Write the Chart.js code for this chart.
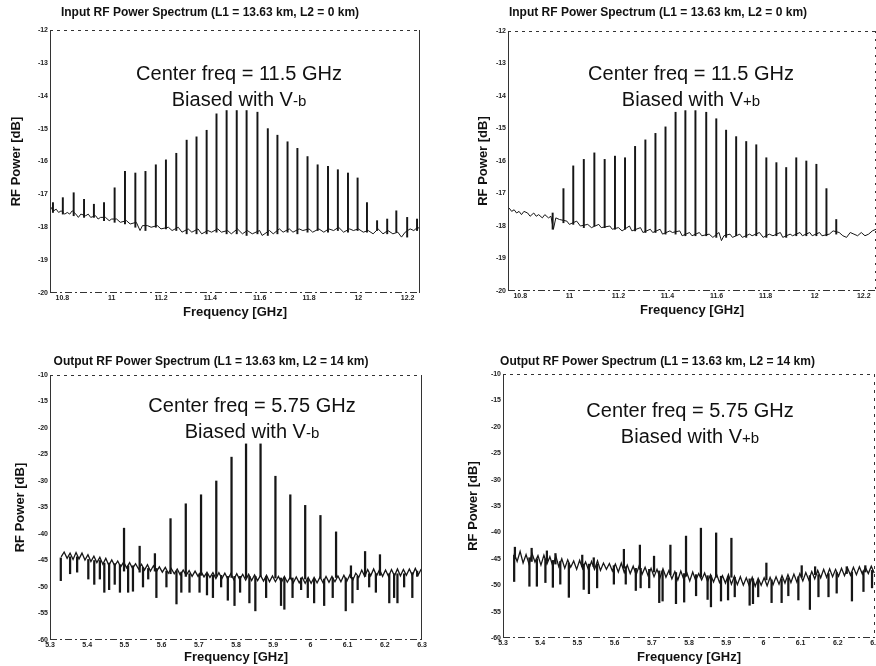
<!DOCTYPE html>
<html>
<head>
<meta charset="utf-8">
<script src="https://cdn.jsdelivr.net/npm/chart.js@4/dist/chart.umd.min.js"></script>
<style>
  body { margin: 0; background: #fff; }
  #fig { position: relative; width: 876px; height: 666px; background: #fff; overflow: hidden; }
  .panel { position: absolute; }
  .note { position: absolute; width: 320px; text-align: center; font-family: "Liberation Sans", Arial, sans-serif;
          font-size: 20px; line-height: 24px; color: #111; white-space: nowrap; }
  .note small { font-size: 15px; }
</style>
</head>
<body>
<div id="fig">
  <div class="panel" style="left:0;top:0"><canvas id="cTL" width="440" height="330"></canvas></div>
  <div class="panel" style="left:440px;top:0"><canvas id="cTR" width="436" height="330"></canvas></div>
  <div class="panel" style="left:0;top:330px"><canvas id="cBL" width="440" height="336"></canvas></div>
  <div class="panel" style="left:440px;top:330px"><canvas id="cBR" width="436" height="336"></canvas></div>

  <div class="note" style="left:79px;top:61px">Center freq = 11.5 GHz</div>
  <div class="note" style="left:79px;top:87px">Biased with V<small>-b</small></div>
  <div class="note" style="left:531px;top:61px">Center freq = 11.5 GHz</div>
  <div class="note" style="left:531px;top:87px">Biased with V<small>+b</small></div>
  <div class="note" style="left:92px;top:393px">Center freq = 5.75 GHz</div>
  <div class="note" style="left:92px;top:419px">Biased with V<small>-b</small></div>
  <div class="note" style="left:530px;top:398px">Center freq = 5.75 GHz</div>
  <div class="note" style="left:530px;top:424px">Biased with V<small>+b</small></div>
</div>

<script>
// ---- tick labels ----
const inXTicks = [10.8, 11, 11.2, 11.4, 11.6, 11.8, 12, 12.2];
const inYTicks = [-12, -13, -14, -15, -16, -17, -18, -19, -20];
const outXTicks = [5.3, 5.4, 5.5, 5.6, 5.7, 5.8, 5.9, 6, 6.1, 6.2, 6.3];
const outYTicks = [-10, -15, -20, -25, -30, -35, -40, -45, -50, -55, -60];

// ---- top left: input spectrum, V-b ----
const tlFloorF = [10.75, 10.755, 10.765, 10.775, 10.785, 10.795, 10.81, 10.82, 10.83, 10.84, 10.855, 10.865, 10.875, 10.895, 10.905, 10.915, 10.935, 10.945, 10.955, 10.975, 10.99, 11.0, 11.02, 11.035, 11.06, 11.075, 11.1, 11.115, 11.125, 11.145, 11.16, 11.185, 11.2, 11.23, 11.245, 11.27, 11.285, 11.31, 11.325, 11.35, 11.365, 11.39, 11.405, 11.43, 11.445, 11.47, 11.485, 11.51, 11.53, 11.55, 11.57, 11.6, 11.61, 11.64, 11.655, 11.68, 11.695, 11.72, 11.735, 11.76, 11.775, 11.8, 11.815, 11.84, 11.86, 11.88, 11.9, 11.92, 11.94, 11.965, 11.98, 12.0, 12.02, 12.04, 12.06, 12.08, 12.1, 12.12, 12.14, 12.16, 12.175, 12.19, 12.21, 12.225, 12.24, 12.25];
const tlFloorDb = [-17.55, -17.4, -17.5, -17.45, -17.55, -17.5, -17.6, -17.55, -17.6, -17.5, -17.6, -17.7, -17.6, -17.65, -17.6, -17.7, -17.65, -17.75, -17.7, -17.7, -17.8, -17.75, -17.75, -17.85, -17.8, -17.9, -17.85, -18.1, -17.95, -17.95, -18.0, -17.95, -18.05, -18.0, -18.1, -18.0, -18.15, -18.05, -18.15, -18.05, -18.2, -18.1, -18.15, -18.05, -18.15, -18.1, -18.2, -18.05, -18.2, -18.1, -18.2, -18.1, -18.25, -18.1, -18.2, -18.05, -18.15, -18.05, -18.15, -18.05, -18.1, -18.05, -18.15, -18.05, -18.15, -18.05, -18.1, -18.0, -18.15, -18.05, -18.1, -18.05, -18.15, -18.1, -18.2, -18.05, -18.2, -18.1, -18.2, -18.15, -18.3, -18.15, -18.05, -18.1, -18.0, -18.05];
const tlSpikeF = [10.762, 10.802, 10.846, 10.888, 10.928, 10.969, 11.012, 11.054, 11.096, 11.137, 11.179, 11.22, 11.262, 11.304, 11.344, 11.385, 11.425, 11.466, 11.507, 11.547, 11.591, 11.633, 11.672, 11.713, 11.753, 11.794, 11.835, 11.877, 11.917, 11.958, 11.997, 12.035, 12.076, 12.117, 12.154, 12.198, 12.238];
const tlSpikeHi = [-17.25, -17.1, -16.95, -17.15, -17.3, -17.25, -16.8, -16.3, -16.35, -16.3, -16.1, -15.95, -15.75, -15.35, -15.25, -15.05, -14.55, -14.45, -14.45, -14.45, -14.5, -15.0, -15.2, -15.4, -15.6, -15.85, -16.1, -16.15, -16.25, -16.35, -16.5, -17.25, -17.8, -17.75, -17.5, -17.7, -17.75];
const tlSpikeLo = [-17.55, -17.6, -17.65, -17.7, -17.7, -17.8, -17.85, -17.9, -18.0, -18.1, -18.0, -18.05, -18.1, -18.2, -18.2, -18.2, -18.15, -18.2, -18.2, -18.25, -18.2, -18.25, -18.2, -18.15, -18.2, -18.15, -18.1, -18.15, -18.1, -18.15, -18.1, -18.15, -18.1, -18.2, -18.15, -18.3, -18.1];

// ---- top right: input spectrum, V+b ----
const trFloorF = [10.75, 10.755, 10.765, 10.775, 10.785, 10.795, 10.805, 10.815, 10.83, 10.84, 10.855, 10.865, 10.875, 10.89, 10.9, 10.915, 10.925, 10.935, 10.945, 10.96, 10.99, 11.0, 11.03, 11.045, 11.075, 11.09, 11.12, 11.13, 11.165, 11.175, 11.2, 11.215, 11.245, 11.255, 11.29, 11.3, 11.33, 11.34, 11.37, 11.38, 11.41, 11.42, 11.45, 11.46, 11.49, 11.5, 11.53, 11.54, 11.57, 11.585, 11.61, 11.62, 11.63, 11.655, 11.665, 11.695, 11.705, 11.735, 11.745, 11.775, 11.79, 11.815, 11.83, 11.86, 11.87, 11.9, 11.91, 11.94, 11.95, 11.98, 11.99, 12.02, 12.03, 12.06, 12.075, 12.1, 12.115, 12.13, 12.145, 12.16, 12.175, 12.19, 12.205, 12.22, 12.235, 12.25];
const trFloorDb = [-17.5, -17.45, -17.55, -17.5, -17.6, -17.55, -17.65, -17.55, -17.6, -17.7, -17.6, -17.7, -17.65, -17.75, -17.65, -17.75, -17.7, -18.1, -17.75, -17.8, -17.85, -17.95, -17.85, -18.0, -17.95, -18.05, -17.95, -18.05, -18.0, -18.1, -18.05, -18.15, -18.0, -18.15, -18.05, -18.2, -18.1, -18.2, -18.1, -18.25, -18.15, -18.2, -18.15, -18.3, -18.2, -18.3, -18.2, -18.3, -18.25, -18.35, -18.2, -18.45, -18.3, -18.25, -18.35, -18.25, -18.35, -18.25, -18.3, -18.2, -18.35, -18.25, -18.3, -18.2, -18.35, -18.25, -18.3, -18.2, -18.3, -18.2, -18.3, -18.2, -18.3, -18.25, -18.15, -18.2, -18.3, -18.35, -18.2, -18.25, -18.3, -18.2, -18.3, -18.25, -18.15, -18.1];
const trSpikeF = [10.932, 10.976, 11.016, 11.059, 11.102, 11.144, 11.186, 11.227, 11.268, 11.31, 11.351, 11.392, 11.433, 11.473, 11.514, 11.558, 11.599, 11.639, 11.68, 11.721, 11.762, 11.803, 11.844, 11.884, 11.925, 11.966, 12.007, 12.048, 12.088];
const trSpikeHi = [-17.6, -16.85, -16.15, -15.95, -15.75, -15.95, -15.85, -15.9, -15.55, -15.35, -15.15, -14.95, -14.5, -14.45, -14.45, -14.5, -14.7, -15.05, -15.25, -15.4, -15.5, -15.9, -16.05, -16.2, -15.9, -16.0, -16.1, -16.85, -17.8];
const trSpikeLo = [-18.1, -17.9, -17.95, -18.05, -18.0, -18.05, -18.1, -18.1, -18.15, -18.2, -18.2, -18.25, -18.25, -18.3, -18.3, -18.3, -18.35, -18.35, -18.3, -18.35, -18.3, -18.35, -18.3, -18.35, -18.3, -18.3, -18.3, -18.3, -18.25];

// ---- bottom left: output spectrum, V-b ----
const blFloorF = [5.33, 5.338, 5.346, 5.354, 5.362, 5.37, 5.378, 5.386, 5.394, 5.402, 5.41, 5.418, 5.426, 5.434, 5.442, 5.45, 5.458, 5.466, 5.474, 5.482, 5.49, 5.498, 5.506, 5.514, 5.522, 5.53, 5.538, 5.546, 5.554, 5.562, 5.57, 5.578, 5.586, 5.594, 5.602, 5.61, 5.618, 5.626, 5.634, 5.642, 5.65, 5.658, 5.666, 5.674, 5.682, 5.69, 5.698, 5.706, 5.714, 5.722, 5.73, 5.738, 5.746, 5.754, 5.762, 5.77, 5.778, 5.786, 5.794, 5.802, 5.81, 5.818, 5.826, 5.834, 5.842, 5.85, 5.858, 5.866, 5.874, 5.882, 5.89, 5.898, 5.906, 5.914, 5.922, 5.93, 5.938, 5.946, 5.954, 5.962, 5.97, 5.978, 5.986, 5.994, 6.002, 6.01, 6.018, 6.026, 6.034, 6.042, 6.05, 6.058, 6.066, 6.074, 6.082, 6.09, 6.098, 6.106, 6.114, 6.122, 6.13, 6.138, 6.146, 6.154, 6.162, 6.17, 6.178, 6.186, 6.194, 6.202, 6.21, 6.218, 6.226, 6.234, 6.242, 6.25, 6.258, 6.266, 6.274, 6.282, 6.29, 6.298];
const blFloorDb = [-44.3, -43.4, -44.6, -43.6, -44.8, -43.5, -44.7, -43.6, -44.9, -43.9, -45.2, -44.2, -45.4, -44.4, -45.7, -44.6, -45.9, -44.9, -46.0, -45.1, -46.2, -45.3, -46.4, -45.4, -46.5, -45.6, -46.6, -45.7, -46.8, -45.8, -47.0, -46.0, -47.1, -46.2, -47.2, -46.3, -47.4, -46.5, -47.5, -46.6, -47.7, -46.8, -47.8, -46.9, -48.0, -47.0, -48.0, -47.1, -48.1, -47.2, -48.2, -47.3, -48.4, -47.3, -48.4, -47.4, -48.5, -47.5, -48.6, -47.5, -48.6, -47.6, -48.7, -47.6, -48.8, -47.7, -48.8, -47.8, -48.9, -47.8, -49.0, -47.9, -49.0, -48.0, -49.1, -48.0, -49.1, -48.1, -49.2, -48.1, -49.2, -48.2, -49.3, -48.2, -49.3, -48.2, -49.2, -48.1, -49.2, -48.0, -49.1, -48.0, -49.0, -47.9, -49.0, -47.8, -48.9, -47.7, -48.7, -47.4, -48.2, -46.8, -48.0, -46.7, -47.9, -46.6, -47.9, -46.7, -48.0, -46.8, -48.0, -46.7, -47.9, -46.6, -47.9, -46.7, -47.8, -46.6, -47.8, -46.5, -47.7, -46.6];
// comb lines (upward) followed by dips (downward)
const blSpikeF = [5.499, 5.541, 5.582, 5.624, 5.665, 5.706, 5.747, 5.788, 5.827, 5.866, 5.906, 5.946, 5.986, 6.027, 6.069, 6.109, 6.147, 6.187,
  5.329, 5.354, 5.373, 5.403, 5.419, 5.434, 5.446, 5.459, 5.474, 5.488, 5.51, 5.523, 5.55, 5.564, 5.586, 5.613, 5.64, 5.653, 5.675, 5.702, 5.722, 5.738, 5.76, 5.778, 5.796, 5.811, 5.836, 5.852, 5.881, 5.921, 5.93, 5.952, 5.975, 5.993, 6.01, 6.037, 6.06, 6.095, 6.113, 6.127, 6.158, 6.176, 6.212, 6.225, 6.234, 6.252, 6.274, 6.287];
const blSpikeLo = [-47.0, -47.2, -47.0, -47.5, -48.0, -47.8, -48.0, -48.2, -48.3, -48.0, -48.3, -48.5, -48.5, -48.3, -48.2, -48.3, -48.0, -47.8,
  -48.8, -47.5, -47.2, -48.5, -49.5, -48.5, -51.0, -50.5, -49.5, -51.0, -51.0, -50.8, -50.0, -48.5, -52.0, -50.0, -53.2, -51.0, -51.0, -51.0, -51.5, -52.0, -50.0, -52.5, -53.5, -51.0, -53.0, -54.5, -52.0, -53.5, -54.2, -52.0, -50.5, -52.0, -53.0, -53.5, -52.0, -54.5, -53.0, -50.5, -50.0, -51.0, -53.0, -52.0, -53.0, -50.0, -52.0, -48.0];
const blSpikeHi = [-38.9, -42.3, -43.7, -37.1, -34.3, -32.6, -30.0, -25.5, -23.0, -23.0, -29.1, -32.6, -34.6, -36.5, -39.6, -46.0, -43.3, -43.9,
  -44.5, -44.3, -44.3, -44.8, -45.0, -45.0, -45.5, -45.5, -45.6, -45.8, -46.0, -46.0, -46.3, -46.5, -46.5, -47.0, -47.0, -47.2, -47.5, -47.5, -47.5, -47.8, -47.8, -48.0, -48.0, -48.0, -48.0, -48.0, -48.0, -48.3, -48.3, -48.3, -48.3, -48.5, -48.5, -48.5, -48.3, -48.3, -48.2, -48.0, -47.5, -47.5, -47.5, -47.5, -47.5, -47.5, -47.3, -47.0];

// ---- bottom right: output spectrum, V+b ----
const brFloorF = [5.33, 5.338, 5.346, 5.354, 5.362, 5.37, 5.378, 5.386, 5.394, 5.402, 5.41, 5.418, 5.426, 5.434, 5.442, 5.45, 5.458, 5.466, 5.474, 5.482, 5.49, 5.498, 5.506, 5.514, 5.522, 5.53, 5.538, 5.546, 5.554, 5.562, 5.57, 5.578, 5.586, 5.594, 5.602, 5.61, 5.618, 5.626, 5.634, 5.642, 5.65, 5.658, 5.666, 5.674, 5.682, 5.69, 5.698, 5.706, 5.714, 5.722, 5.73, 5.738, 5.746, 5.754, 5.762, 5.77, 5.778, 5.786, 5.794, 5.802, 5.81, 5.818, 5.826, 5.834, 5.842, 5.85, 5.858, 5.866, 5.874, 5.882, 5.89, 5.898, 5.906, 5.914, 5.922, 5.93, 5.938, 5.946, 5.954, 5.962, 5.97, 5.978, 5.986, 5.994, 6.002, 6.01, 6.018, 6.026, 6.034, 6.042, 6.05, 6.058, 6.066, 6.074, 6.082, 6.09, 6.098, 6.106, 6.114, 6.122, 6.13, 6.138, 6.146, 6.154, 6.162, 6.17, 6.178, 6.186, 6.194, 6.202, 6.21, 6.218, 6.226, 6.234, 6.242, 6.25, 6.258, 6.266, 6.274, 6.282, 6.29, 6.298];
const brFloorDb = [-44.0, -45.5, -43.6, -45.8, -44.2, -46.0, -44.0, -45.6, -44.4, -46.2, -44.3, -46.0, -44.6, -46.4, -44.5, -46.5, -45.0, -46.8, -45.2, -46.6, -45.4, -47.0, -45.3, -46.9, -45.6, -47.1, -45.5, -47.0, -45.4, -47.2, -45.8, -47.0, -45.9, -47.3, -46.0, -47.5, -45.8, -47.6, -46.2, -47.8, -46.4, -48.0, -46.3, -47.9, -46.6, -48.2, -46.8, -48.4, -47.0, -48.6, -46.9, -48.5, -47.2, -48.8, -47.4, -49.0, -47.3, -48.9, -47.6, -49.2, -47.5, -49.1, -47.8, -49.0, -47.7, -49.3, -48.0, -49.4, -47.9, -49.5, -48.2, -49.6, -48.0, -49.8, -48.3, -49.9, -48.4, -50.0, -48.6, -50.1, -48.5, -50.2, -48.7, -50.0, -48.6, -50.1, -48.5, -49.9, -48.4, -49.8, -48.2, -49.6, -48.0, -49.5, -47.9, -49.4, -47.8, -49.2, -47.6, -49.0, -47.4, -48.8, -47.2, -48.6, -47.0, -48.5, -46.9, -48.4, -47.0, -48.3, -46.8, -48.2, -46.7, -48.1, -46.6, -48.0, -46.5, -47.9, -46.6, -47.8, -46.4, -47.7];
const brSpikeF = [5.75, 5.792, 5.832, 5.873, 5.914, 5.332, 5.377, 5.418, 5.441, 5.513, 5.544, 5.625, 5.668, 5.706, 6.008, 6.103, 6.139, 6.224, 6.274,
  5.33, 5.371, 5.391, 5.414, 5.434, 5.454, 5.477, 5.517, 5.531, 5.553, 5.598, 5.63, 5.657, 5.67, 5.693, 5.72, 5.729, 5.765, 5.787, 5.819, 5.85, 5.859, 5.886, 5.905, 5.923, 5.963, 5.972, 5.986, 6.022, 6.049, 6.067, 6.094, 6.125, 6.148, 6.175, 6.197, 6.238, 6.269, 6.292];
const brSpikeLo = [-48.0, -48.3, -48.5, -48.5, -48.5, -45.0, -45.5, -45.5, -46.0, -46.5, -46.5, -46.8, -47.0, -47.5, -49.0, -48.5, -48.0, -47.8, -47.5,
  -49.3, -50.2, -50.2, -49.5, -50.4, -49.8, -52.3, -50.8, -51.6, -50.5, -49.8, -49.8, -51.0, -50.5, -50.5, -53.3, -53.0, -53.5, -53.2, -52.0, -52.7, -54.1, -53.0, -52.8, -52.2, -53.8, -53.5, -52.2, -53.3, -53.3, -52.0, -52.8, -54.6, -52.2, -52.2, -51.5, -53.0, -51.2, -50.5];
const brSpikeHi = [-42.4, -40.7, -39.2, -40.1, -41.1, -42.8, -43.0, -43.5, -44.0, -44.3, -44.8, -43.2, -42.4, -44.5, -45.8, -46.3, -46.5, -46.5, -46.3,
  -44.3, -44.8, -45.0, -45.0, -45.3, -45.5, -45.8, -46.0, -46.0, -46.0, -46.3, -46.5, -46.8, -46.8, -47.0, -47.3, -47.3, -47.6, -47.8, -48.0, -48.2, -48.2, -48.3, -48.3, -48.5, -48.8, -48.8, -49.0, -49.0, -48.8, -48.6, -48.4, -48.2, -48.0, -47.8, -47.6, -47.5, -47.3, -47.2];

const FONT = '"Liberation Sans", Arial, sans-serif';
const INK = '#161616';

// Draw the plot box: solid left side, broken top/bottom/right like the scan
const framePlugin = {
    id: 'frame',
    afterDatasetsDraw(chart, args, opts) {
        const { ctx, chartArea: a } = chart;
        ctx.save();
        ctx.strokeStyle = '#333';
        ctx.lineWidth = 1;
        const seg = (x1, y1, x2, y2, dash) => {
            ctx.setLineDash(dash);
            ctx.beginPath();
            ctx.moveTo(x1, y1);
            ctx.lineTo(x2, y2);
            ctx.stroke();
        };
        seg(a.left, a.top + 0.5, a.right, a.top + 0.5, [3, 4]);
        seg(a.left, a.bottom - 0.5, a.right, a.bottom - 0.5, [7, 3, 2, 3]);
        seg(a.left + 0.5, a.top, a.left + 0.5, a.bottom, []);
        seg(a.right - 0.5, a.top, a.right - 0.5, a.bottom, opts.rightDash || []);
        ctx.restore();
    }
};

function pts(xs, ys) {
    return xs.map((x, i) => ({ x: x, y: ys[i] }));
}

function spans(xs, lo, hi) {
    return xs.map((x, i) => ({ x: x, y: [lo[i], hi[i]] }));
}

// p: canvas box, plot box, title/label positions (all page px)
function makePanel(p) {
    const ch = p.ch, cw = p.cw;
    const titleLH = 12 * 1.2, axisLH = 13 * 1.2;
    const titleTop = p.titleY - p.cy - titleLH / 2;
    const titleBottom = (p.T - p.cy) - titleLH - titleTop;

    return new Chart(document.getElementById(p.id), {
        type: 'line',
        data: {
            datasets: [
                {
                    type: 'bar',
                    data: spans(p.spikeF, p.spikeLo, p.spikeHi),
                    backgroundColor: INK,
                    borderWidth: 0,
                    barThickness: p.barW,
                    grouped: false
                },
                {
                    type: 'line',
                    data: pts(p.floorF, p.floorDb),
                    borderColor: INK,
                    borderWidth: p.lineW,
                    pointRadius: 0,
                    tension: 0
                }
            ]
        },
        options: {
            responsive: false,
            animation: false,
            devicePixelRatio: 1,
            layout: { padding: { left: 0, top: 0, bottom: 0, right: cw - (p.R - p.cx) } },
            plugins: {
                legend: { display: false },
                tooltip: { enabled: false },
                frame: { rightDash: p.rightDash },
                title: {
                    display: true,
                    text: p.title,
                    color: '#111',
                    font: { family: FONT, size: 12, weight: 'bold' },
                    padding: { top: titleTop, bottom: titleBottom }
                }
            },
            scales: {
                x: {
                    type: 'linear',
                    min: p.xMin,
                    max: p.xMax,
                    offset: false,
                    grid: { display: false, drawTicks: false },
                    border: { display: false },
                    afterBuildTicks: s => { s.ticks = p.xTicks.map(v => ({ value: v })); },
                    afterFit: s => {
                        s.height = ch - (p.B - p.cy);
                        s.paddingLeft = 0;
                        s.paddingRight = 0;
                    },
                    ticks: {
                        color: '#222',
                        font: { family: FONT, size: 7, weight: 'bold' },
                        padding: 1,
                        maxRotation: 0,
                        autoSkip: false,
                        callback: v => String(v)
                    },
                    title: {
                        display: true,
                        text: 'Frequency [GHz]',
                        color: '#111',
                        font: { family: FONT, size: 13, weight: 'bold' },
                        padding: { top: 0, bottom: p.cy + ch - p.xLabelY - axisLH / 2 }
                    }
                },
                y: {
                    type: 'linear',
                    min: p.yMin,
                    max: p.yMax,
                    grid: { display: false, drawTicks: false },
                    border: { display: false },
                    afterBuildTicks: s => { s.ticks = p.yTicks.map(v => ({ value: v })); },
                    afterFit: s => {
                        s.width = p.L - p.cx;
                        s.paddingTop = 0;
                        s.paddingBottom = 0;
                    },
                    ticks: {
                        color: '#222',
                        font: { family: FONT, size: 7, weight: 'bold' },
                        padding: 2,
                        autoSkip: false,
                        callback: v => String(v)
                    },
                    title: {
                        display: true,
                        text: 'RF Power [dB]',
                        color: '#111',
                        font: { family: FONT, size: 13, weight: 'bold' },
                        padding: { top: p.yLabelX - p.cx - axisLH / 2, bottom: 0 }
                    }
                }
            }
        },
        plugins: [framePlugin]
    });
}

document.addEventListener('DOMContentLoaded', function() {
    makePanel({
        id: 'cTL', cx: 0, cy: 0, cw: 440, ch: 330,
        L: 50, T: 30, R: 420, B: 293, titleY: 13, xLabelY: 312, yLabelX: 16,
        title: 'Input RF Power Spectrum (L1 = 13.63 km, L2 = 0 km)',
        xMin: 10.75, xMax: 12.25, yMin: -20, yMax: -12, xTicks: inXTicks, yTicks: inYTicks,
        floorF: tlFloorF, floorDb: tlFloorDb, spikeF: tlSpikeF, spikeLo: tlSpikeLo, spikeHi: tlSpikeHi,
        barW: 1.3, lineW: 1
    });
    makePanel({
        id: 'cTR', cx: 440, cy: 0, cw: 436, ch: 330,
        L: 508, T: 31, R: 876, B: 291, titleY: 13, xLabelY: 310, yLabelX: 483,
        title: 'Input RF Power Spectrum (L1 = 13.63 km, L2 = 0 km)',
        xMin: 10.75, xMax: 12.25, yMin: -20, yMax: -12, xTicks: inXTicks, yTicks: inYTicks,
        floorF: trFloorF, floorDb: trFloorDb, spikeF: trSpikeF, spikeLo: trSpikeLo, spikeHi: trSpikeHi,
        barW: 1.3, lineW: 1, rightDash: [2, 6]
    });
    makePanel({
        id: 'cBL', cx: 0, cy: 330, cw: 440, ch: 336,
        L: 50, T: 375, R: 422, B: 640, titleY: 362, xLabelY: 657, yLabelX: 20,
        title: 'Output RF Power Spectrum (L1 = 13.63 km, L2 = 14 km)',
        xMin: 5.3, xMax: 6.3, yMin: -60, yMax: -10, xTicks: outXTicks, yTicks: outYTicks,
        floorF: blFloorF, floorDb: blFloorDb, spikeF: blSpikeF, spikeLo: blSpikeLo, spikeHi: blSpikeHi,
        barW: 1.6, lineW: 1.3
    });
    makePanel({
        id: 'cBR', cx: 440, cy: 330, cw: 436, ch: 336,
        L: 503, T: 374, R: 875, B: 638, titleY: 362, xLabelY: 657, yLabelX: 473,
        title: 'Output RF Power Spectrum (L1 = 13.63 km, L2 = 14 km)',
        xMin: 5.3, xMax: 6.3, yMin: -60, yMax: -10, xTicks: outXTicks, yTicks: outYTicks,
        floorF: brFloorF, floorDb: brFloorDb, spikeF: brSpikeF, spikeLo: brSpikeLo, spikeHi: brSpikeHi,
        barW: 1.6, lineW: 1.3, rightDash: [3, 5]
    });
});
</script>
</body>
</html>
